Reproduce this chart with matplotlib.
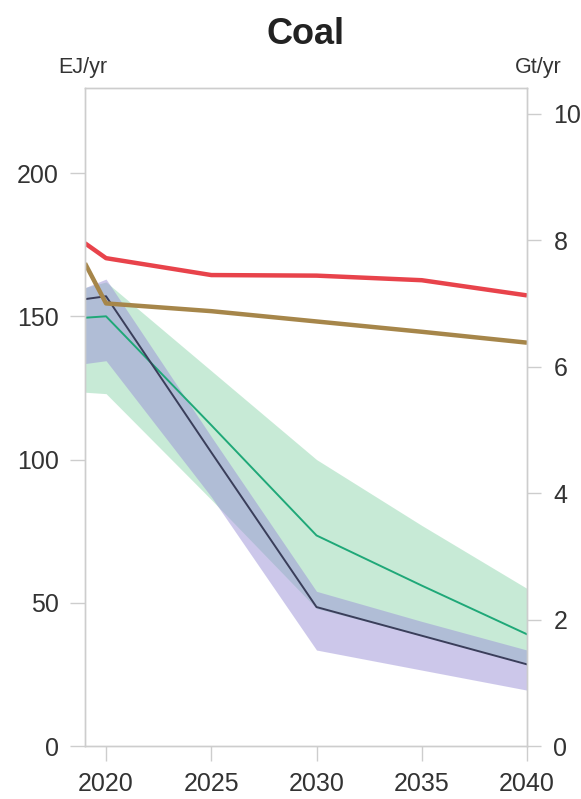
import matplotlib
matplotlib.use("Agg")
import matplotlib.pyplot as plt

years = [2019, 2020, 2025, 2030, 2035, 2040]
red_line = [175.5, 170.3, 164.4, 164.2, 162.6, 157.3]
brown_line = [168.5, 154.5, 151.8, 148.2, 144.6, 140.8]
green_line = [149.5, 150.0, 112.0, 73.5, 56.0, 39.0]
navy_line = [156.0, 157.0, 102.5, 48.5, 38.5, 28.5]
purple_low = [133.5, 134.5, 87.0, 33.5, 26.5, 19.5]
purple_high = [160.0, 163.0, 108.0, 54.0, 43.5, 33.5]
green_low = [123.5, 123.0, 86.0, 48.0, 38.5, 29.0]
green_high = [160.0, 162.0, 131.0, 100.0, 77.0, 55.0]

x_ticks = [2020, 2025, 2030, 2035, 2040]
left_ticks = [0, 50, 100, 150, 200]
right_ticks = [0, 2, 4, 6, 8, 10]

plt.rcParams['font.family'] = ['Liberation Sans', 'DejaVu Sans']
fig = plt.figure(figsize=(5.81, 7.99), dpi=100)
ax = fig.add_axes([85/581, 1 - 746/799, (527 - 85)/581, (746 - 88)/799])
ax2 = ax.twinx()

ax.fill_between(years, green_low, green_high, color=(145/255, 215/255, 175/255), alpha=0.5, linewidth=0)
ax.fill_between(years, purple_low, purple_high, color=(155/255, 145/255, 215/255), alpha=0.5, linewidth=0)
ax.plot(years, green_line, color='#1fa878', lw=1.4)
ax.plot(years, navy_line, color='#3a3e5a', lw=1.4)
ax.plot(years, red_line, color='#e8434b', lw=3.2, solid_capstyle='butt')
ax.plot(years, brown_line, color='#a6864a', lw=3.2, solid_capstyle='butt')

ax.set_xlim(2019, 2040)
ax.set_ylim(0, 229.7)
ax2.set_ylim(0, 10.41)
ax.set_xticks(x_ticks)
ax.set_yticks(left_ticks)
ax2.set_yticks(right_ticks)

gray = '#cdcdcd'
for a in (ax, ax2):
    for s in a.spines.values():
        s.set_color(gray)
        s.set_linewidth(1.0)
ax.tick_params(axis='x', length=11, width=1, color=gray, pad=8, labelsize=18, labelcolor='#333333')
ax.tick_params(axis='y', length=11, width=1, color=gray, pad=8, labelsize=18, labelcolor='#333333')
ax2.tick_params(axis='y', length=10, width=1, color=gray, pad=9, labelsize=18, labelcolor='#333333')

fig.text(305/581, 1 - 35/799, 'Coal', ha='center', va='center', fontsize=26, fontweight='bold', color='#222222')
fig.text(58/581, 1 - 68/799, 'EJ/yr', ha='left', va='center', fontsize=15.5, color='#333333')
fig.text(562/581, 1 - 68/799, 'Gt/yr', ha='right', va='center', fontsize=15.5, color='#333333')

fig.savefig('out.png', dpi=100, facecolor='white')
